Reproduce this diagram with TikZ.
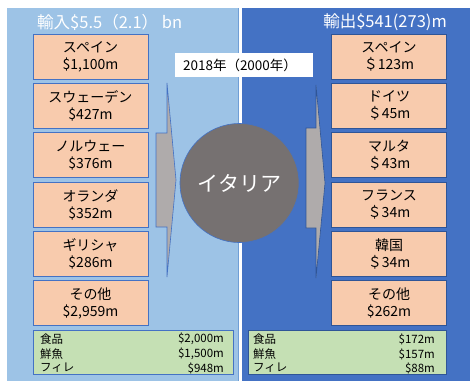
\documentclass[tikz,border=0pt]{standalone}
\usepackage{fontspec}
\setmainfont{Noto Sans CJK JP}
\definecolor{lpanel}{HTML}{9DC3E6}
\definecolor{lpaneledge}{HTML}{6F9ED6}
\definecolor{rpanel}{HTML}{4472C4}
\definecolor{peach}{HTML}{F8CBAD}
\definecolor{mint}{HTML}{C5E0B4}
\definecolor{edge}{HTML}{4472C4}
\definecolor{redge}{HTML}{2F5597}
\definecolor{arrowgray}{HTML}{AFABAB}
\definecolor{circgray}{HTML}{767171}
\begin{document}
\begin{tikzpicture}[x=1pt,y=-1pt,
  country/.style={draw=edge, line width=0.8pt, fill=peach, minimum width=115pt, minimum height=45pt,
    inner sep=0pt, align=center, font=\fontsize{14}{17}\selectfont},
  rcountry/.style={country, draw=redge},
  sumbox/.style={draw=edge, line width=0.8pt, fill=mint, minimum height=44pt, inner sep=0pt},
  small/.style={inner sep=0pt, font=\fontsize{11.5}{12}\selectfont},
  title/.style={inner sep=0pt, text=white, font=\fontsize{16.5}{18}\selectfont},
  blockarrow/.style={fill=arrowgray, draw=edge, line width=0.6pt, line join=miter}
]
\useasboundingbox (0,0) rectangle (472,383);
\fill[white] (0,0) rectangle (472,383);
% panels
\fill[lpanel] (7,8) rectangle (238,381);
\draw[lpaneledge, line width=0.8pt] (238,8) -- (238,381);
\fill[rpanel] (242,8) rectangle (470,381);
% titles
\node[title, anchor=west] (intitle) at (37,22) {輸入\$5.5（2.1） bn};
\node[title, anchor=east] (outtitle) at (447,22) {輸出\$541(273)m};
% label
\fill[white] (175,53) rectangle (313,77);
\node[inner sep=0pt, font=\fontsize{13.5}{15}\selectfont] (year) at (240,65) {2018年（2000年）};
% arrows
\draw[blockarrow] (156,133) -- (167,133) -- (167,83) -- (176,180) -- (167,277) -- (167,227) -- (156,227) -- cycle;
\draw[blockarrow, draw=redge] (306,128) -- (316,128) -- (316,85) -- (325,183) -- (316,278) -- (316,228) -- (306,228) -- cycle;
% circle
\node[circle, fill=circgray, draw=edge, line width=0.6pt, minimum size=119pt, inner sep=0pt,
  text=white, font=\fontsize{21}{24}\selectfont] (italy) at (239.5,183) {イタリア};
% import boxes
\node[country] (i1) at (90.5,56.5) {スペイン\\\$1,100m};
\node[country] (i2) at (90.5,105.5) {スウェーデン\\\$427m};
\node[country] (i3) at (90.5,155) {ノルウェー\\\$376m};
\node[country] (i4) at (90.5,204.5) {オランダ\\\$352m};
\node[country] (i5) at (90.5,254) {ギリシャ\\\$286m};
\node[country] (i6) at (90.5,303) {その他\\\$2,959m};
% export boxes
\node[rcountry] (e1) at (389,56.5) {スペイン\\＄123m};
\node[rcountry] (e2) at (389,105.5) {ドイツ\\＄45m};
\node[rcountry] (e3) at (389,155) {マルタ\\＄43m};
\node[rcountry] (e4) at (389,204.5) {フランス\\＄34m};
\node[rcountry] (e5) at (389,254) {韓国\\＄34m};
\node[rcountry] (e6) at (389,303) {その他\\\$262m};
% summary boxes
\node[sumbox, minimum width=200pt] (isum) at (133,352) {};
\node[sumbox, minimum width=198pt, draw=redge] (esum) at (347,352) {};
\node[small, anchor=west] (il1) at (40,339) {食品};
\node[small, anchor=west] (il2) at (40,354) {鮮魚};
\node[small, anchor=west] (il3) at (40,368) {フィレ};
\node[small, anchor=east] (iv1) at (224,339) {\$2,000m};
\node[small, anchor=east] (iv2) at (224,354) {\$1,500m};
\node[small, anchor=east] (iv3) at (224,368) {\$948m};
\node[small, anchor=west] (el1) at (253,339) {食品};
\node[small, anchor=west] (el2) at (253,354) {鮮魚};
\node[small, anchor=west] (el3) at (253,368) {フィレ};
\node[small, anchor=east] (ev1) at (435,339) {\$172m};
\node[small, anchor=east] (ev2) at (435,354) {\$157m};
\node[small, anchor=east] (ev3) at (435,368) {\$88m};
\end{tikzpicture}
\end{document}
